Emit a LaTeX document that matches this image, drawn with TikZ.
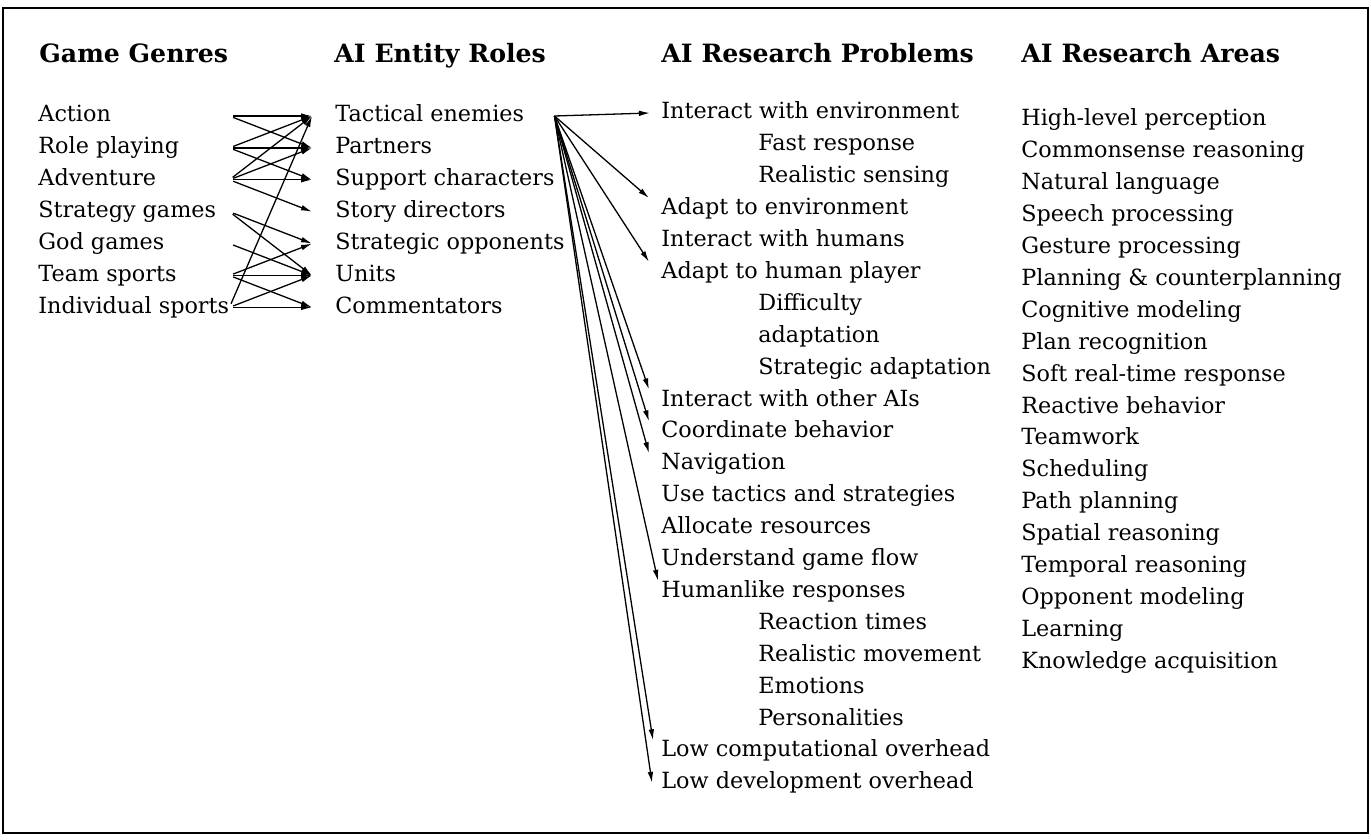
\documentclass[tikz,border=0pt]{standalone}
\usepackage{fontspec}
\setmainfont{DejaVu Serif}
\usetikzlibrary{arrows.meta}

\tikzset{
  item/.style={anchor=west, inner sep=0pt, text height=8.1pt, text depth=2.2pt,
    font=\fontsize{11.15}{13}\selectfont},
  head/.style={anchor=base west, inner sep=0pt, font=\fontsize{12.6}{15}\selectfont\bfseries},
  link/.style={-{Latex[length=5.5pt,width=2.8pt]}, line width=0.65pt},
}

\begin{document}
\begin{tikzpicture}[x=0.5pt, y=-0.5pt]
\useasboundingbox (0,0) rectangle (1371,840);
\draw[line width=0.75pt] (3,8) rectangle (1368,833);

% column heads
\node[head] (hgenre) at (39,63) {Game Genres};
\node[head] (hrole) at (334,63) {AI Entity Roles};
\node[head] (hprob) at (661,63) {AI Research Problems};
\node[head] (harea) at (1021,63) {AI Research Areas};

% genres and roles
\foreach \n/\t [count=\i from 0] in {action/Action, roleplay/Role playing,
    adventure/Adventure, strategy/Strategy games, god/God games,
    team/Team sports, indiv/Individual sports}
  \node[item] (\n) at (38,116+31.9*\i) {\t};
\foreach \n/\t [count=\i from 0] in {tactical/Tactical enemies, partners/Partners,
    support/Support characters, story/Story directors, strategic/Strategic opponents,
    units/Units, comment/Commentators}
  \node[item] (\n) at (335,116+31.9*\i) {\t};

% research problems
\foreach \n/\x/\t [count=\i from 0] in {env/661/Interact with environment,
    fast/758/Fast response, realsense/758/Realistic sensing,
    adaptenv/661/Adapt to environment, humans/661/Interact with humans,
    adapthuman/661/Adapt to human player, diff/758/Difficulty,
    diffb/758/adaptation, stratad/758/Strategic adaptation,
    otherai/661/Interact with other AIs, coord/661/Coordinate behavior,
    navig/661/Navigation, tactics/661/Use tactics and strategies,
    alloc/661/Allocate resources, flow/661/Understand game flow,
    humanlike/661/Humanlike responses, react/758/Reaction times,
    realmove/758/Realistic movement, emo/758/Emotions,
    person/758/Personalities, lowcomp/661/Low computational overhead,
    lowdev/661/Low development overhead}
  \node[item] (\n) at (\x,113+31.9*\i) {\t};

% research areas
\foreach \n/\t [count=\i from 0] in {percept/High-level perception,
    commonsense/Commonsense reasoning, natlang/Natural language,
    speech/Speech processing, gesture/Gesture processing,
    planning/Planning \& counterplanning, cognitive/Cognitive modeling,
    planrec/Plan recognition, realtime/Soft real-time response,
    reactive/Reactive behavior, teamwork/Teamwork, sched/Scheduling,
    pathplan/Path planning, spatial/Spatial reasoning,
    temporal/Temporal reasoning, opponent/Opponent modeling,
    learning/Learning, knowledge/Knowledge acquisition}
  \node[item] (\n) at (1021,120+31.9*\i) {\t};

% genres -> roles
\foreach \a/\b in {action/tactical, action/partners,
    roleplay/tactical, roleplay/partners, roleplay/support,
    adventure/tactical, adventure/partners, adventure/support, adventure/story,
    strategy/strategic, strategy/units, god/units,
    team/strategic, team/units, team/comment,
    indiv/tactical, indiv/units, indiv/comment}
  \draw[link, shorten <=2pt] (\a -| indiv.east) -- ([xshift=-11.5pt]\b.west);

% tactical enemies -> problems
\coordinate (fan) at ([xshift=15pt]tactical.east);
\draw[link] (fan) -- ([xshift=-5.5pt]env.west);
\foreach \t in {adaptenv, adapthuman, otherai, coord, navig}
  \draw[link] (fan) -- ([xshift=-6pt]\t.north west);
\draw[link] (fan) -- ([xshift=-1.5pt]humanlike.north west);
\draw[link] (fan) -- ([xshift=-4pt]lowcomp.north west);
\draw[link] (fan) -- ([xshift=-4.5pt]lowdev.west);
\end{tikzpicture}
\end{document}
